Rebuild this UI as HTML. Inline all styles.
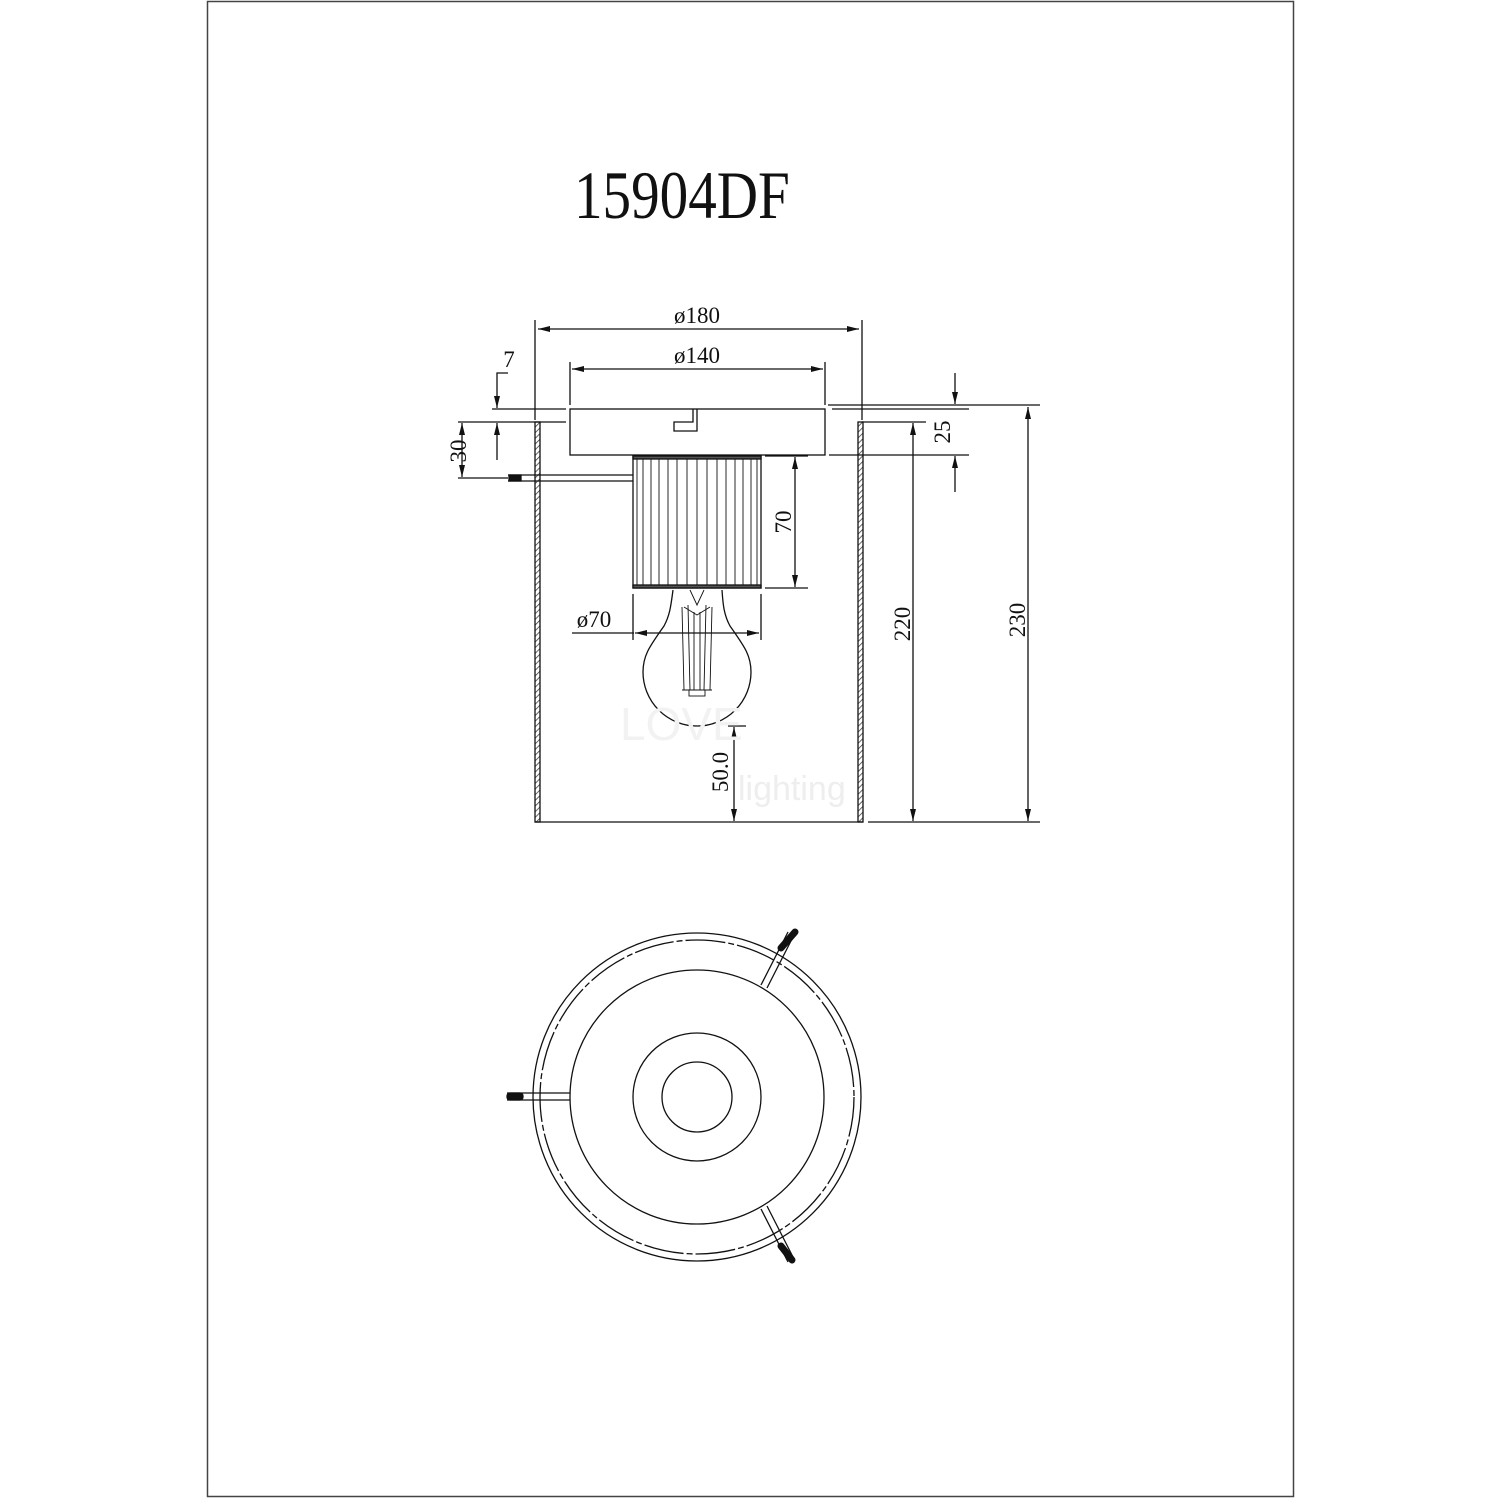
<!DOCTYPE html>
<html><head><meta charset="utf-8"><style>
html,body{margin:0;padding:0;background:#fff}
svg{display:block}
text{font-family:"Liberation Serif",serif;fill:#111}
</style></head><body>
<svg width="1500" height="1500" viewBox="0 0 1500 1500" xmlns="http://www.w3.org/2000/svg">
<defs>
<marker id="a" viewBox="0 0 12 6" refX="12" refY="3" markerWidth="12" markerHeight="6" orient="auto-start-reverse" markerUnits="userSpaceOnUse"><path d="M0,0 L12,3 L0,6 Z" fill="#111"/></marker>
<pattern id="h" width="4" height="4" patternUnits="userSpaceOnUse" patternTransform="rotate(45)"><line x1="0" y1="0" x2="0" y2="4" stroke="#333" stroke-width="1.5"/></pattern>
</defs>
<rect x="207.5" y="1.5" width="1086" height="1495" fill="none" stroke="#444" stroke-width="1.5"/>
<text x="0" y="0" font-size="68" transform="translate(574,218) scale(0.84,1)">15904DF</text>

<g stroke="#111" stroke-width="1.3" fill="none">
<rect x="535" y="422" width="5" height="400" fill="url(#h)"/>
<rect x="858" y="422" width="5" height="400" fill="url(#h)"/>
<line x1="535" y1="822" x2="863" y2="822"/>
<rect x="570" y="409" width="255" height="46"/>
<path d="M697,409 V431 H674 V422 H693 V409"/>
<rect x="633" y="456" width="128" height="132"/>
<rect x="633" y="456" width="128" height="3" fill="#555"/>
<rect x="633" y="585" width="128" height="3" fill="#555"/>
<g stroke-width="0.9">
<line x1="637" y1="459" x2="637" y2="585"/><line x1="643" y1="459" x2="643" y2="585"/><line x1="651" y1="459" x2="651" y2="585"/><line x1="659" y1="459" x2="659" y2="585"/><line x1="668" y1="459" x2="668" y2="585"/><line x1="677" y1="459" x2="677" y2="585"/><line x1="687" y1="459" x2="687" y2="585"/><line x1="697" y1="459" x2="697" y2="585"/><line x1="707" y1="459" x2="707" y2="585"/><line x1="717" y1="459" x2="717" y2="585"/><line x1="726" y1="459" x2="726" y2="585"/><line x1="735" y1="459" x2="735" y2="585"/><line x1="743" y1="459" x2="743" y2="585"/><line x1="751" y1="459" x2="751" y2="585"/><line x1="757" y1="459" x2="757" y2="585"/>
</g>
<line x1="508" y1="475" x2="633" y2="475"/><line x1="508" y1="481" x2="633" y2="481"/>
<rect x="509" y="475" width="12" height="6" fill="#111"/>
<path d="M673,590 C671,605 670,615 664,626 C650,646 643,655 643,672 A54,54 0 0 0 751,672 C751,655 744,646 730,626 C724,615 723,605 722,590" />
<g stroke-width="0.9">
<line x1="682" y1="607" x2="684" y2="690"/><line x1="688" y1="605" x2="690" y2="690"/><line x1="694" y1="612" x2="694" y2="690"/><line x1="700" y1="612" x2="700" y2="690"/><line x1="706" y1="605" x2="704" y2="690"/><line x1="712" y1="607" x2="710" y2="690"/>
<path d="M690,590 L697,605 L704,590"/><path d="M684,607 L697,615 L710,607"/>
<rect x="689" y="690" width="16" height="6"/>
<line x1="682" y1="690" x2="712" y2="690"/>
</g>

<line x1="535" y1="320" x2="535" y2="420"/><line x1="862" y1="320" x2="862" y2="420"/>
<line x1="538" y1="329" x2="859" y2="329" marker-start="url(#a)" marker-end="url(#a)"/>
<line x1="570" y1="362" x2="570" y2="405"/><line x1="825" y1="362" x2="825" y2="405"/>
<line x1="572" y1="369" x2="823" y2="369" marker-start="url(#a)" marker-end="url(#a)"/>
<line x1="492" y1="409" x2="566" y2="409"/>
<line x1="458" y1="422" x2="566" y2="422"/>
<line x1="862" y1="422" x2="926" y2="422"/>
<path d="M508,373 H497 V408" marker-end="url(#a)"/>
<line x1="497" y1="460" x2="497" y2="423" marker-end="url(#a)"/>
<line x1="462" y1="423" x2="462" y2="477" marker-start="url(#a)" marker-end="url(#a)"/>
<line x1="458" y1="478" x2="508" y2="478"/>
<line x1="832" y1="409" x2="969" y2="409"/><line x1="828" y1="405" x2="1040" y2="405"/>
<line x1="829" y1="455" x2="969" y2="455"/>
<line x1="955" y1="373" x2="955" y2="404" marker-end="url(#a)"/>
<line x1="955" y1="492" x2="955" y2="456" marker-end="url(#a)"/>
<line x1="913" y1="423" x2="913" y2="821" marker-start="url(#a)" marker-end="url(#a)"/>
<line x1="1028" y1="407" x2="1028" y2="821" marker-start="url(#a)" marker-end="url(#a)"/>
<line x1="868" y1="822" x2="1040" y2="822"/>
<line x1="765" y1="456" x2="808" y2="456"/><line x1="765" y1="588" x2="808" y2="588"/>
<line x1="795" y1="457" x2="795" y2="587" marker-start="url(#a)" marker-end="url(#a)"/>
<line x1="633" y1="594" x2="633" y2="640"/><line x1="761" y1="594" x2="761" y2="640"/>
<line x1="572" y1="633" x2="634" y2="633"/>
<line x1="635" y1="633" x2="759" y2="633" marker-start="url(#a)" marker-end="url(#a)"/>
<line x1="728" y1="726" x2="746" y2="726"/>
<line x1="734" y1="727" x2="734" y2="821" marker-start="url(#a)" marker-end="url(#a)"/>
</g>

<text x="697" y="323" font-size="23" text-anchor="middle">ø180</text>
<text x="697" y="363" font-size="23" text-anchor="middle">ø140</text>
<text x="594" y="627" font-size="23" text-anchor="middle">ø70</text>
<text x="509" y="367" font-size="23" text-anchor="middle">7</text>
<text transform="translate(466,451) rotate(-90)" font-size="23" text-anchor="middle">30</text>
<text transform="translate(950,432) rotate(-90)" font-size="23" text-anchor="middle">25</text>
<text transform="translate(791,522) rotate(-90)" font-size="23" text-anchor="middle">70</text>
<text transform="translate(910,624) rotate(-90)" font-size="23" text-anchor="middle">220</text>
<text transform="translate(1025,620) rotate(-90)" font-size="23" text-anchor="middle">230</text>
<text transform="translate(728,772) rotate(-90)" font-size="23" text-anchor="middle">50.0</text>
<text x="620" y="740" font-size="46" style="fill:#f2f2f2;font-family:'Liberation Sans',sans-serif">LOVE</text>
<text x="738" y="800" font-size="34" style="fill:#eeeeee;font-family:'Liberation Sans',sans-serif">lighting</text>

<g stroke="#111" stroke-width="1.3" fill="none">
<circle cx="697" cy="1097" r="164"/>
<circle cx="697" cy="1097" r="157" stroke-dasharray="40 3 6 3"/>
<circle cx="697" cy="1097" r="127"/>
<circle cx="697" cy="1097" r="64"/>
<circle cx="697" cy="1097" r="35"/>
<line x1="507" y1="1093" x2="570" y2="1093"/><line x1="507" y1="1100" x2="570" y2="1100"/>
<rect x="507" y="1093" width="16" height="7" rx="3" fill="#111"/>
<line x1="761" y1="985" x2="788" y2="932"/><line x1="767" y1="988" x2="794" y2="935"/>
<line x1="781" y1="948" x2="795" y2="932" stroke-width="7" stroke-linecap="round"/>
<line x1="761" y1="1209" x2="788" y2="1262"/><line x1="767" y1="1206" x2="794" y2="1259"/>
<line x1="781" y1="1246" x2="792" y2="1260" stroke-width="7" stroke-linecap="round"/>
</g>
</svg>
</body></html>
